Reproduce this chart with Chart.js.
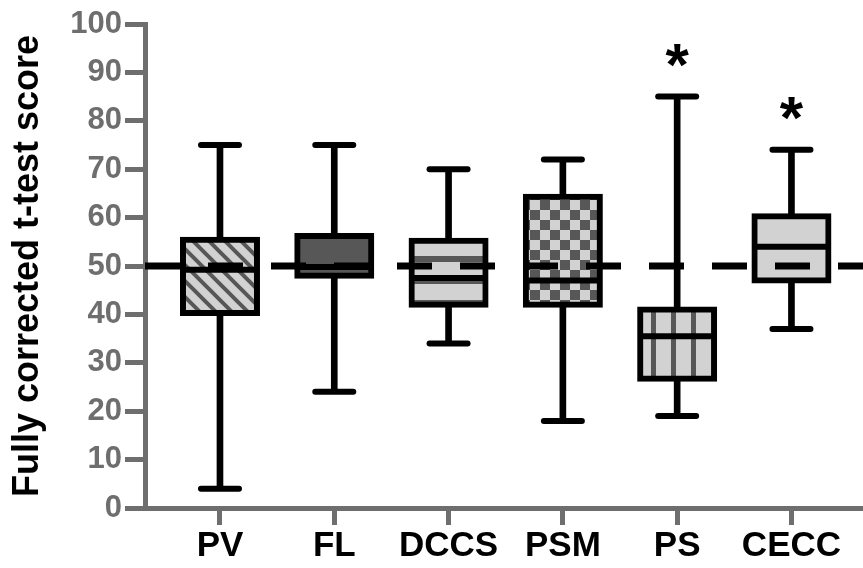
<!DOCTYPE html>
<html>
<head>
<meta charset="utf-8">
<title>Fully corrected t-test score</title>
<script src="https://cdn.jsdelivr.net/npm/chart.js@4.4.1/dist/chart.umd.min.js"></script>
<style>
  html, body { margin: 0; padding: 0; background: #fff; }
  #wrap { width: 863px; height: 568px; }
</style>
</head>
<body>
<div id="wrap"><canvas id="boxChart" width="863" height="568"></canvas></div>
<script>
// --- Data ---
const categories = ['PV', 'FL', 'DCCS', 'PSM', 'PS', 'CECC'];
const whiskerLow = [4, 24, 34, 18, 19, 37];
const quartile1 = [40.3, 48, 42, 42, 26.7, 47];
const medians = [49.2, 49.8, 47.5, 47, 35.5, 54];
const quartile3 = [55.4, 56.2, 55.2, 64.3, 41, 60.3];
const whiskerHigh = [75, 75, 70, 72, 85, 74];
const significance = ['', '', '', '', '*', '*'];
const boxFills = ['diagonal', 'dark', 'horizontal', 'checker', 'vertical', 'plain'];
const referenceScore = 50;
const yMin = 0, yMax = 100, yStep = 10;

document.addEventListener('DOMContentLoaded', () => {
    const canvas = document.getElementById('boxChart');
    const ctx = canvas.getContext('2d');

    const axisGrey = '#6e6e6e';
    const light = '#d2d2d2';
    const dark = '#575757';

    // --- Fill patterns for the boxes ---
    function makeFill(kind) {
        if (kind === 'dark') return dark;
        if (kind === 'plain') return light;
        const tile = document.createElement('canvas');
        const t = tile.getContext('2d');
        if (kind === 'diagonal') {
            tile.width = 16; tile.height = 16;
            t.fillStyle = light; t.fillRect(0, 0, 16, 16);
            t.strokeStyle = dark; t.lineWidth = 4;
            t.beginPath();
            t.moveTo(-16, -16); t.lineTo(32, 32);
            t.moveTo(-16, 0); t.lineTo(16, 32);
            t.moveTo(0, -16); t.lineTo(32, 16);
            t.stroke();
        } else if (kind === 'horizontal') {
            tile.width = 4; tile.height = 22;
            t.fillStyle = light; t.fillRect(0, 0, 4, 22);
            t.fillStyle = dark; t.fillRect(0, 14, 4, 6);
        } else if (kind === 'checker') {
            tile.width = 20; tile.height = 20;
            t.fillStyle = light; t.fillRect(0, 0, 20, 20);
            t.fillStyle = dark;
            t.fillRect(0, 0, 10, 10); t.fillRect(10, 10, 10, 10);
        } else if (kind === 'vertical') {
            tile.width = 20; tile.height = 4;
            t.fillStyle = light; t.fillRect(0, 0, 20, 4);
            t.fillStyle = dark; t.fillRect(11, 0, 5, 4);
        }
        return ctx.createPattern(tile, 'repeat');
    }

    // x positions: category i sits at value i + 1 on a linear axis
    const xMin = 0.344, xMax = 6.626;

    // --- Plugin: round caps on whisker ends + significance stars ---
    const boxExtras = {
        id: 'boxExtras',
        beforeDatasetDraw(chart, args) {
            if (chart.data.datasets[args.index].roundCaps) chart.ctx.lineCap = 'round';
        },
        afterDatasetDraw(chart) {
            chart.ctx.lineCap = 'butt';
        },
        afterDatasetsDraw(chart) {
            const c = chart.ctx;
            const xs = chart.scales.x, ys = chart.scales.y;
            c.save();
            c.font = 'bold 60px "Liberation Sans", Arial, sans-serif';
            c.fillStyle = '#000';
            c.textAlign = 'center';
            c.textBaseline = 'alphabetic';
            significance.forEach((mark, i) => {
                if (!mark) return;
                const m = c.measureText(mark);
                const cx = xs.getPixelForValue(i + 1);
                const cy = ys.getPixelForValue(whiskerHigh[i]) - 41;
                c.fillText(mark, cx, cy + (m.actualBoundingBoxAscent - m.actualBoundingBoxDescent) / 2);
            });
            c.restore();
        }
    };

    Chart.defaults.font.family = '"Liberation Sans", Arial, sans-serif';

    new Chart(ctx, {
        type: 'bar',
        data: {
            datasets: [
                {
                    type: 'line',
                    label: 'Reference',
                    data: [{ x: xMin, y: referenceScore }, { x: xMax, y: referenceScore }],
                    borderColor: '#000',
                    borderWidth: 7,
                    borderDash: [35, 28],
                    borderCapStyle: 'butt',
                    pointRadius: 0,
                    order: 0
                },
                {
                    type: 'scatter',
                    label: 'Median',
                    data: medians.map((m, i) => ({ x: i + 1, y: m })),
                    pointStyle: 'line',
                    pointRadius: 37,
                    pointBorderWidth: 6,
                    pointBorderColor: '#000',
                    order: 1
                },
                {
                    type: 'bar',
                    label: 'IQR',
                    data: categories.map((c, i) => ({ x: i + 1, y: [quartile1[i], quartile3[i]] })),
                    backgroundColor: boxFills.map(makeFill),
                    borderColor: '#000',
                    borderWidth: 6,
                    borderSkipped: false,
                    barThickness: 74,
                    inflateAmount: 3,
                    grouped: false,
                    order: 2
                },
                {
                    type: 'scatter',
                    label: 'Caps',
                    data: categories.flatMap((c, i) => [
                        { x: i + 1, y: whiskerLow[i] },
                        { x: i + 1, y: whiskerHigh[i] }
                    ]),
                    pointStyle: 'line',
                    pointRadius: 19,
                    pointBorderWidth: 6,
                    pointBorderColor: '#000',
                    roundCaps: true,
                    order: 3
                },
                {
                    type: 'bar',
                    label: 'Whiskers',
                    data: categories.map((c, i) => ({ x: i + 1, y: [whiskerLow[i], whiskerHigh[i]] })),
                    backgroundColor: '#000',
                    borderWidth: 0,
                    barThickness: 6,
                    grouped: false,
                    order: 4
                }
            ]
        },
        options: {
            responsive: false,
            animation: false,
            events: [],
            layout: {
                autoPadding: false,
                padding: { top: 24, right: 0, left: 0, bottom: 0 }
            },
            plugins: {
                legend: { display: false },
                tooltip: { enabled: false }
            },
            scales: {
                x: {
                    type: 'linear',
                    offset: false,
                    min: xMin,
                    max: xMax,
                    afterBuildTicks: (scale) => {
                        scale.ticks = categories.map((c, i) => ({ value: i + 1 }));
                    },
                    afterFit: (scale) => {
                        scale.height = 60;
                        scale.paddingLeft = 0;
                        scale.paddingRight = 0;
                    },
                    ticks: {
                        callback: (v) => categories[v - 1],
                        color: '#000',
                        font: { size: 35, weight: 'bold' },
                        padding: 0,
                        maxRotation: 0,
                        autoSkip: false
                    },
                    grid: {
                        display: true,
                        offset: false,
                        drawOnChartArea: false,
                        drawTicks: true,
                        tickLength: 17,
                        tickWidth: 5,
                        tickColor: axisGrey
                    },
                    border: { display: true, color: axisGrey, width: 5 }
                },
                y: {
                    min: yMin,
                    max: yMax,
                    afterFit: (scale) => {
                        scale.width = 145;
                        scale.paddingTop = 0;
                        scale.paddingBottom = 0;
                    },
                    ticks: {
                        stepSize: yStep,
                        color: axisGrey,
                        font: { size: 31, weight: 'bold' },
                        padding: 3
                    },
                    grid: {
                        display: true,
                        drawOnChartArea: false,
                        drawTicks: true,
                        tickLength: 20,
                        tickWidth: 5,
                        tickColor: axisGrey
                    },
                    border: { display: true, color: axisGrey, width: 5 },
                    title: {
                        display: true,
                        text: 'Fully corrected t-test score',
                        color: '#000',
                        font: { size: 36, weight: 'bold', lineHeight: 1.2 },
                        padding: { top: 6, bottom: 0 }
                    }
                }
            }
        },
        plugins: [boxExtras]
    });
});
</script>
</body>
</html>
